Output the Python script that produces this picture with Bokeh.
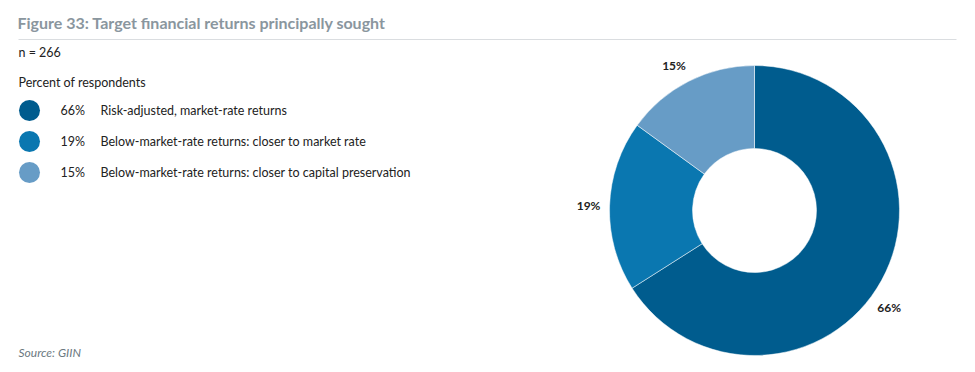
from math import pi, cos, sin
from bokeh.plotting import figure
from bokeh.models import Range1d
from bokeh.core.properties import value
from bokeh.embed import file_html
from bokeh.resources import INLINE

# ---- data ----
categories = ["Risk-adjusted, market-rate returns",
              "Below-market-rate returns: closer to market rate",
              "Below-market-rate returns: closer to capital preservation"]
shares = [66, 19, 15]
colors = ["#005C8E", "#0A77B0", "#679CC6"]
title_text = "Figure 33: Target financial returns principally sought"
n_text = "n = 266"
subtitle = "Percent of respondents"
source_text = "Source: GIIN"

W, H = 962, 364
FONT = "Lato"

def X(sx):
    return sx

def Y(sy):
    return H - sy

p = figure(width=W, height=H, output_backend="svg", toolbar_location=None,
           x_range=Range1d(0, W), y_range=Range1d(0, H), min_border=0)
p.axis.visible = False
p.grid.visible = False
p.outline_line_color = None
p.background_fill_color = "white"

# title + rule
p.text(x=[X(17)], y=[Y(22)], text=[title_text], text_font=value(FONT),
       text_font_size="16px", text_font_style="bold", text_color="#8A969E",
       text_baseline="middle")
p.segment(x0=[X(18)], y0=[Y(39)], x1=[X(956)], y1=[Y(39)], line_color="#DADDE0", line_width=1)
p.text(x=[X(18)], y=[Y(52)], text=[n_text], text_font=value(FONT),
       text_font_size="12.5px", text_color="#222222", text_baseline="middle")
p.text(x=[X(18)], y=[Y(82)], text=[subtitle], text_font=value(FONT),
       text_font_size="12.5px", text_color="#222222", text_baseline="middle")

# legend
leg_y = [110, 141, 172]
for cat, s, c, ly in zip(categories, shares, colors, leg_y):
    p.scatter(x=[X(29)], y=[Y(ly)], size=21, color=c, line_color=None)
    p.text(x=[X(60)], y=[Y(ly)], text=[f"{s}%"], text_font=value(FONT),
           text_font_size="12.5px", text_color="#222222", text_baseline="middle")
    p.text(x=[X(100)], y=[Y(ly)], text=[cat], text_font=value(FONT),
           text_font_size="12.5px", text_color="#222222", text_baseline="middle")

# donut
cx, cy = X(754), Y(210)
total = sum(shares)
starts, ends, mids = [], [], []
cum = 0
for s in shares:
    a0 = pi / 2 - 2 * pi * cum / total
    cum += s
    a1 = pi / 2 - 2 * pi * cum / total
    starts.append(a0)
    ends.append(a1)
    mids.append((a0 + a1) / 2)

p.annular_wedge(x=cx, y=cy, inner_radius=62, outer_radius=145,
                start_angle=starts, end_angle=ends, direction="clock",
                fill_color=colors, line_color="white", line_width=0.5)

# percentage labels
label_r = 166
nudge = [-7, 0, 2]  # degrees
for s, m, nd in zip(shares, mids, nudge):
    a = m + nd * pi / 180
    p.text(x=[cx + label_r * cos(a)], y=[cy + label_r * sin(a)], text=[f"{s}%"],
           text_font=value(FONT), text_font_size="12px", text_font_style="bold",
           text_color="#222222", text_align="center", text_baseline="middle")

p.text(x=[X(18)], y=[Y(352)], text=[source_text], text_font=value(FONT),
       text_font_size="12px", text_font_style="italic", text_color="#6B7880",
       text_baseline="middle")

open("out.html", "w").write(file_html(p, INLINE))
